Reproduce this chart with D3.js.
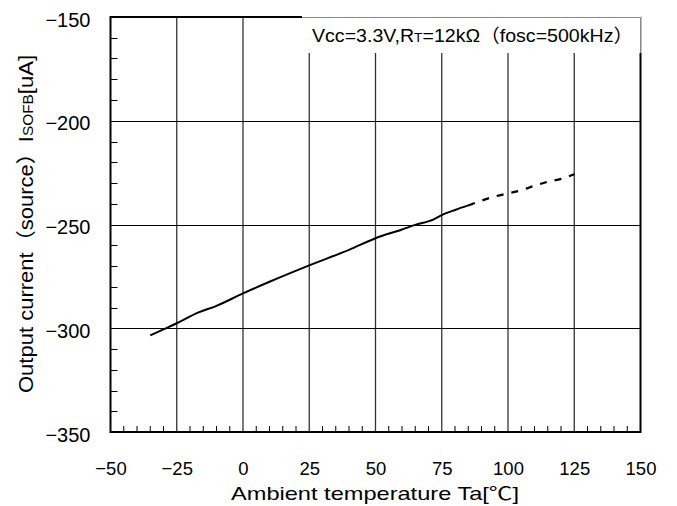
<!DOCTYPE html>
<html><head><meta charset="utf-8">
<script src="https://cdn.jsdelivr.net/npm/d3@7"></script>
<style>body{margin:0;background:#fff}</style></head>
<body><svg id="c" width="677" height="506"></svg>
<script>
const xTicks = [-50, -25, 0, 25, 50, 75, 100, 125, 150];
const yTicks = [-350, -300, -250, -200, -150];
const xMinor = d3.range(-50, 150, 5);
const yMinor = d3.range(-350, -150, 10);
const tempSolid = [-35, -30, -25, -17, -10, 0, 10, 25, 40, 50, 60, 65, 72, 75, 80, 85];
const currentSolid = [-303.4, -300.5, -297.6, -292.5, -289.2, -283.2, -277.6, -269.7, -262.2, -256.6, -252.4, -250.2, -247.5, -245.5, -243, -240.8];
const tempDashed = [85, 90, 95, 100, 105, 110, 115, 120, 125];
const currentDashed = [-240.8, -238.5, -236.5, -235, -233.5, -231.3, -229.4, -228, -225.8];

const svg = d3.select('#c');
const L = 110.5, R = 640.5, T = 17, B = 432;
const x = d3.scaleLinear().domain([-50, 150]).range([L, R]);
const y = d3.scaleLinear().domain([-350, -150]).range([B, T]);
const numFont = '"Liberation Sans", Arial, sans-serif';
const txtFont = '"Liberation Sans", Arial, "Noto Sans CJK JP", sans-serif';

// vertical gridlines
svg.append('g').selectAll('line').data(xTicks.slice(1, -1)).join('line')
  .attr('x1', d => x(d)).attr('x2', d => x(d)).attr('y1', T).attr('y2', B)
  .attr('stroke', '#333').attr('stroke-width', 1.3);
// horizontal gridlines
svg.append('g').selectAll('line').data(yTicks.slice(1, -1)).join('line')
  .attr('x1', L).attr('x2', R).attr('y1', d => Math.round(y(d)) + 0.5).attr('y2', d => Math.round(y(d)) + 0.5)
  .attr('stroke', '#000').attr('stroke-width', 1);
// minor ticks
svg.append('g').selectAll('line').data(xMinor.filter(v => v % 25 !== 0)).join('line')
  .attr('x1', d => x(d)).attr('x2', d => x(d)).attr('y1', B).attr('y2', B - 6)
  .attr('stroke', '#000').attr('stroke-width', 1);
svg.append('g').selectAll('line').data(yMinor.filter(v => v % 50 !== 0)).join('line')
  .attr('x1', L).attr('x2', L + 7).attr('y1', d => Math.round(y(d)) + 0.5).attr('y2', d => Math.round(y(d)) + 0.5)
  .attr('stroke', '#000').attr('stroke-width', 1);

// frame
svg.append('rect').attr('x', L).attr('y', T).attr('width', R - L).attr('height', B - T)
  .attr('fill', 'none').attr('stroke', '#000').attr('stroke-width', 2);

// data
const line = d3.line().x(d => x(d[0])).y(d => y(d[1]));
svg.append('path').datum(tempSolid.map((t, i) => [t, currentSolid[i]]))
  .attr('d', line.curve(d3.curveMonotoneX)).attr('fill', 'none').attr('stroke', '#000').attr('stroke-width', 2);
svg.append('path').datum(tempDashed.map((t, i) => [t, currentDashed[i]]))
  .attr('d', line.curve(d3.curveMonotoneX)).attr('fill', 'none').attr('stroke', '#000').attr('stroke-width', 2.2)
  .attr('stroke-dasharray', '7,8');

// legend box
svg.append('rect').attr('x', 302).attr('y', 16).attr('width', 339.5).attr('height', 37).attr('fill', '#fff');
svg.append('path').attr('d', 'M302,17.5H640.5V53').attr('fill', 'none').attr('stroke', '#888').attr('stroke-width', 1);
const lg = svg.append('text').attr('x', 312).attr('y', 42).attr('font-family', txtFont).attr('font-size', 18.5)
  .attr('textLength', 321).attr('lengthAdjust', 'spacingAndGlyphs');
lg.append('tspan').text('Vcc=3.3V,R');
lg.append('tspan').attr('font-size', 13).text('T');
lg.append('tspan').text('=12kΩ（fosc=500kHz）');

// axes labels
const xa = svg.append('g').attr('transform', `translate(0,${B})`)
  .call(d3.axisBottom(x).tickValues(xTicks).tickSize(0).tickPadding(30));
xa.select('.domain').remove();
xa.selectAll('text').attr('font-family', numFont).attr('font-size', 18.5).attr('fill', '#000');
const ya = svg.append('g').attr('transform', `translate(${L},0)`)
  .call(d3.axisLeft(y).tickValues(yTicks).tickSize(0).tickPadding(20));
ya.select('.domain').remove();
ya.selectAll('text').attr('font-family', numFont).attr('font-size', 20).attr('fill', '#000').attr('dy', '0.45em');

svg.append('text').attr('x', 375).attr('y', 500).attr('text-anchor', 'middle')
  .attr('font-family', txtFont).attr('font-size', 18.5)
  .attr('textLength', 288).attr('lengthAdjust', 'spacingAndGlyphs')
  .text('Ambient temperature Ta[℃]');

const yl = svg.append('text').attr('transform', 'translate(33,393) rotate(-90)')
  .attr('font-family', txtFont).attr('font-size', 20)
  .attr('textLength', 338).attr('lengthAdjust', 'spacingAndGlyphs');
yl.append('tspan').text('Output current（source）I');
yl.append('tspan').attr('font-size', 14).text('SOFB');
yl.append('tspan').text('[uA]');
</script></body></html>
